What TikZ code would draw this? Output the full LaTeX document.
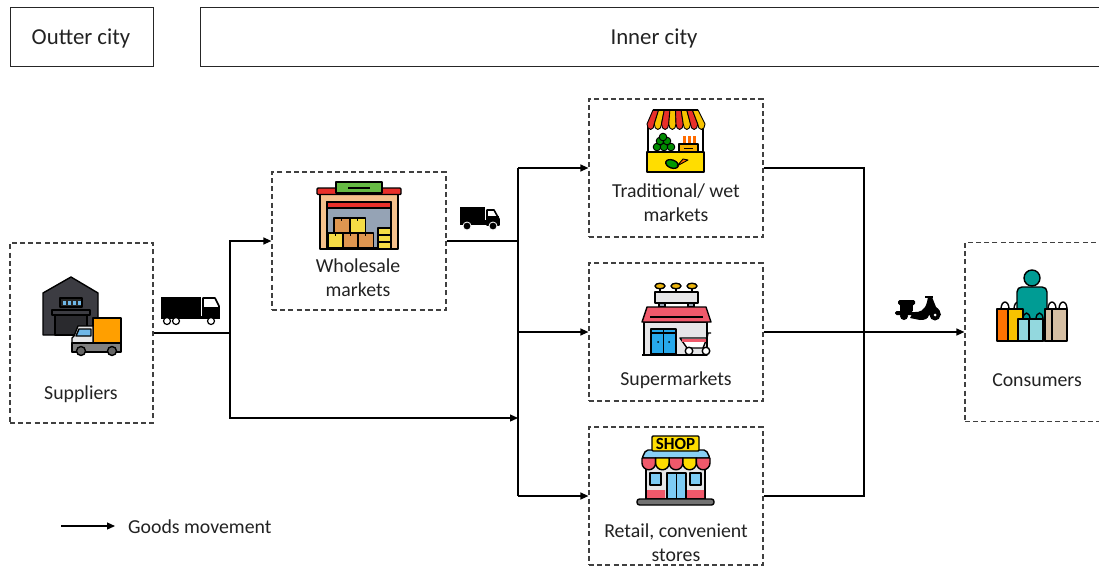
\documentclass[tikz,border=0pt]{standalone}
\usepackage{fontspec}
\setmainfont{Carlito}
\usetikzlibrary{arrows.meta}
\definecolor{txt}{HTML}{222222}
\definecolor{shed}{HTML}{3C3C42}
\definecolor{crate}{HTML}{FF9F00}
\definecolor{sky}{HTML}{6FB7E8}
\definecolor{awnred}{HTML}{E8302A}
\definecolor{awnyel}{HTML}{F7C300}
\definecolor{stall}{HTML}{FFDD00}
\definecolor{peach}{HTML}{F5C18C}
\definecolor{boxor}{HTML}{DE9650}
\definecolor{boxye}{HTML}{F5DC45}
\definecolor{rose}{HTML}{F0596B}
\definecolor{pale}{HTML}{E6E6E8}
\definecolor{door}{HTML}{27A9EC}
\definecolor{teal}{HTML}{009C94}
\definecolor{bagtan}{HTML}{D6BFA3}
\definecolor{bagblue}{HTML}{93D8DE}
\definecolor{roofgreen}{HTML}{66BB44}
\definecolor{bay}{HTML}{95A3B5}
\tikzset{
  x=1pt, y=-1pt,
  region/.style={draw=black!85, line width=1pt, minimum height=59pt},
  station/.style={draw=black!75, dashed, line width=1.2pt, dash pattern=on 5pt off 3.2pt, minimum width=174pt, minimum height=138pt},
  caption/.style={font=\fontsize{19.8}{24}\selectfont, align=center, text=txt, inner sep=0pt},
  heading/.style={font=\fontsize{22.8}{26}\selectfont, text=txt, inner sep=0pt},
  flow/.style={line width=1.2pt, -{Triangle[length=8pt,width=7pt]}},
  feed/.style={line width=1.2pt},
  icon/.style={draw=black, line width=1.4pt, line join=round},
}
\begin{document}
\begin{tikzpicture}
\useasboundingbox (0,0) rectangle (1099,568);
\node[region, minimum width=143pt] (outer) at (81.5,36.5) {};
\node[region, minimum width=920pt] (inner) at (660,36.5) {};
\node[heading] (outerlabel) at (81,38) {Outter city};
\node[heading] (innerlabel) at (654,38) {Inner city};

\node[station, minimum width=143pt, minimum height=180pt] (suppliers) at (81.5,333) {};
\node[station] (wholesale) at (359,241) {};
\node[station] (traditional) at (676,168) {};
\node[station] (supermarkets) at (676,332) {};
\node[station] (retail) at (676,496) {};
\node[station, minimum width=144pt, minimum height=179pt] (consumers) at (1037,332) {};

\node[caption] (supplierslabel) at (81,394) {Suppliers};
\node[caption] (wholesalelabel) at (358,278) {Wholesale\\markets};
\node[caption] (traditionallabel) at (676,203) {Traditional/ wet\\markets};
\node[caption] (supermarketslabel) at (676,380) {Supermarkets};
\node[caption] (retaillabel) at (676,543) {Retail, convenient\\stores};
\node[caption] (consumerslabel) at (1037,380) {Consumers};

% junctions
\coordinate (splitl) at (230,333);
\coordinate (bust) at (518,168);
\coordinate (busm) at (518,332);
\coordinate (busb) at (518,496);
\coordinate (buslow) at (518,418);
\coordinate (merget) at (864,168);
\coordinate (mergeb) at (864,496);
\draw[feed] (suppliers.east) -- (splitl);
\draw[flow] (splitl) |- (wholesale.west);
\draw[flow] (splitl) |- (buslow);
\draw[feed] (wholesale.east) -- (wholesale.east -| bust);
\draw[feed] (bust) -- (busb);
\draw[flow] (bust) -- (traditional.west);
\draw[flow] (busm) -- (supermarkets.west);
\draw[flow] (busb) -- (retail.west);
\draw[feed] (traditional.east) -- (merget) -- (mergeb) -- (retail.east);
\draw[flow] (supermarkets.east) -- (consumers.west);

% legend
\coordinate (legenda) at (61,526);
\node[caption, anchor=west] (legendlabel) at (128,527) {Goods movement};
\draw[flow] (legenda) -- (115,526);

% big truck
\fill (161,297) rectangle (201,316);
\fill (161,316) rectangle (220,319);
\draw[icon, fill=white, line width=1.6pt] (203,298) -- (215,298) -- (219,306) -- (219,317) -- (203,317) -- cycle;
\fill (203,307) rectangle (219,317);
\foreach \wx in {167,176,211} \draw[fill=white, line width=1.2pt] (\wx,321) circle (3.5);

% small truck
\fill (460,207) rectangle (485,220);
\fill (460,220) rectangle (499,225);
\draw[icon, fill=white, line width=1.6pt] (487,210) -- (494,210) -- (499,219) -- (499,225) -- (487,225) -- cycle;
\fill (487,216) rectangle (499,225);
\foreach \wx in {467,493} \draw[fill=black, draw=white, line width=0.8pt] (\wx,226) circle (4);

% scooter
\fill[rounded corners=1.5pt] (898,300) rectangle (915,305);
\fill[rounded corners=1.5pt] (895,311) rectangle (913,315);
\fill (900,305) rectangle (913,311);
\fill (904,316) circle (4);
\fill (913,312) .. controls (920,313) and (925,310) .. (927,302) -- (928,297) -- (932,297) -- (936,307) .. controls (939,309) and (941,312) .. (941,315) -- (929,315) .. controls (928,319) and (925,320) .. (920,320) -- (910,318) -- cycle;
\draw[line width=1.6pt] (925,297) -- (933,297);
\fill (935,315) circle (5.5);
\fill[white] (935,315) circle (1.5);

% warehouse icon
\draw[icon, fill=shed] (43,335) -- (43,293) -- (71,277) -- (98,293) -- (98,335) -- cycle;
\draw[icon, fill=black!85] (60,298) rectangle (82,307);
\foreach \wx in {63,68,73,78} \fill[sky] (\wx,300.5) rectangle +(2.5,4);
\draw[icon, fill=shed!70!black] (55,314) rectangle (87,335);
\draw[icon, fill=shed] (52,310) rectangle (90,315);
\draw[icon, fill=crate] (93,318) rectangle (121,343);
\draw[icon, fill=pale] (93,326) -- (78,326) -- (74,336) -- (72,338) -- (72,352) -- (93,352) -- cycle;
\draw[icon, fill=sky] (79,329) -- (91,329) -- (91,336) -- (76,336) -- cycle;
\draw[icon, fill=black!50] (72,343) rectangle (121,352);
\foreach \wx in {81,112} \draw[icon, fill=black!60] (\wx,351) circle (4.5);

% wholesale icon
\draw[icon, fill=peach] (320,194) rectangle (398,249);
\draw[icon, fill=bay] (327,202) rectangle (391,248);
\draw[icon, fill=awnred] (327,202) rectangle (391,208);
\draw[icon, fill=awnred, rounded corners=1pt] (317,188) rectangle (401,194.5);
\draw[icon, fill=roofgreen] (336,182) rectangle (382,193);
\draw[line width=1.2pt] (348,188) -- (370,188);
\foreach \bx/\by/\bc in {334/218/boxor,350/218/boxye,328/233/boxye,343/233/boxor,358/233/boxor} {
  \draw[icon, fill=\bc] (\bx,\by) rectangle +(15.5,15);
  \draw[line width=1.2pt] (\bx+7.7,\by) -- +(0,3);
}
\foreach \by in {228,235,242} \draw[icon, fill=boxye] (378,\by) rectangle (391,\by+6.5);

% stall icon
\draw[icon] (648,124) -- (648,152) (703,124) -- (703,152);
\foreach \sx [count=\si] in {0,1,...,7} {
  \pgfmathsetmacro{\ca}{653+5.625*\sx}
  \pgfmathsetmacro{\cb}{647+7.25*\sx}
  \pgfmathsetmacro{\cc}{\cb+7.25}
  \pgfmathsetmacro{\cd}{\ca+5.625}
  \pgfmathtruncatemacro{\cm}{mod(\si,2)}
  \ifnum\cm=1 \def\sc{awnred}\else\def\sc{awnyel}\fi
  \draw[icon, fill=\sc, line width=0.9pt] (\ca,110) -- (\cd,110) -- (\cc,124) arc[start angle=0, end angle=180, x radius=3.625, y radius=5.5] -- cycle;
}
\draw[icon] (653,110) -- (698,110);
\foreach \vx/\vy in {657/147,664/147,671/147,660/141,667/141,663/137}
  \draw[fill=green!55!black, draw=black, line width=0.9pt] (\vx,\vy) circle (3.8);
\foreach \vx in {684,689,694} \draw[line width=3pt, draw=orange!85!red] (\vx,136) -- (\vx,144);
\draw[icon, fill=awnyel!75!orange] (679,144) rectangle (698,152);
\draw[line width=0.9pt] (684,148) -- (693,148);
\draw[icon, fill=stall] (647,152) rectangle (704,172);
\draw[icon, fill=green!60!black, rotate around={-20:(672,164)}] (672,164) ellipse (6.5 and 4);
\draw[icon, fill=orange!85!red, line width=0.9pt] (677,166) -- (683,159) -- (688,160) -- cycle;

% supermarket icon
\foreach \lx in {660,676,692} {
  \draw[icon] (\lx,289) -- (\lx,292);
  \draw[icon, fill=awnyel!80!brown] (\lx,286) ellipse (5 and 2.8);
}
\draw[icon, fill=bay] (659,303) rectangle (665,307);
\draw[icon, fill=bay] (688,303) rectangle (694,307);
\draw[icon, fill=pale] (655,292) rectangle (698,303);
\draw[icon, fill=pale] (644,322) rectangle (707,355);
\draw[icon, fill=rose] (647,307) -- (706,307) -- (711,322) -- (642,322) -- cycle;
\draw[line width=1.2pt] (650,317) -- (703,317);
\draw[icon, fill=door] (651,329) rectangle (676,354);
\draw[icon] (663.5,329) -- (663.5,354) (651,333) -- (676,333);
\fill (658,342) circle (1) (669,342) circle (1);
\draw[icon] (642,355) -- (688,355);
\draw[icon, fill=white] (680,338) -- (707,338) -- (703,348) -- (687,348) -- cycle;
\fill[rose] (682,339) rectangle (706,342);
\draw[icon] (707,338) -- (708,333) -- (711,333);
\foreach \wx in {689,706} \draw[icon, fill=white] (\wx,351) circle (3.8);

% shop icon
\draw[icon, fill=pale] (646,463) rectangle (705,499);
\fill[rose] (647,490) rectangle (665,498) (686,490) rectangle (704,498);
\draw[icon, fill=door!60!white] (667,473) rectangle (686,499);
\draw[icon] (676.5,473) -- (676.5,499);
\draw[icon, fill=door!60!white] (650,473) rectangle (661,485);
\draw[icon, fill=door!60!white] (690,473) rectangle (701,485);
\draw[icon, fill=door!55!white, rounded corners=2pt] (642,458) -- (646,450) -- (706,450) -- (710,458) -- cycle;
\foreach \sx/\sc in {642/rose,655.6/stall,669.2/rose,682.8/stall,696.4/rose}
  \draw[icon, fill=\sc] (\sx,458) -- ++(13.6,0) -- ++(0,5) arc[start angle=0, end angle=180, radius=6.8] -- cycle;
\draw[icon, fill=stall, rounded corners=1pt] (652,436) rectangle (699,451);
\node[font=\bfseries\fontsize{17}{18}\selectfont, inner sep=0pt] (shoplabel) at (675.5,444) {SHOP};
\draw[icon, fill=black!55, rounded corners=2.5pt] (637,499) rectangle (714,505);

% shopper icon
\foreach \hx in {1001,1014,1048,1059} \draw[icon] (\hx,309) arc[start angle=180, end angle=360, x radius=4, y radius=7];
\draw[icon, fill=teal] (1017,341) -- (1017,292) .. controls (1017,289) and (1019,287) .. (1022,287) -- (1042,287) .. controls (1045,287) and (1047,289) .. (1047,292) -- (1047,341) -- cycle;
\draw[icon, fill=teal] (1032,278) circle (8);
\draw[icon, fill=bagtan] (1045,309) rectangle (1067,341);
\draw[icon] (1052,309) -- (1052,341);
\draw[icon, fill=awnyel] (1008,309) rectangle (1023,341);
\draw[icon, fill=orange!90!red] (997,309) rectangle (1008,341);
\draw[icon, fill=bagblue] (1018,319) rectangle (1043,341);
\draw[icon] (1029,319) -- (1029,341);
\draw[icon] (1023,319) arc[start angle=180, end angle=360, x radius=3.5, y radius=6];
\draw[icon] (1036,319) arc[start angle=180, end angle=360, x radius=3.5, y radius=6];
\end{tikzpicture}
\end{document}
